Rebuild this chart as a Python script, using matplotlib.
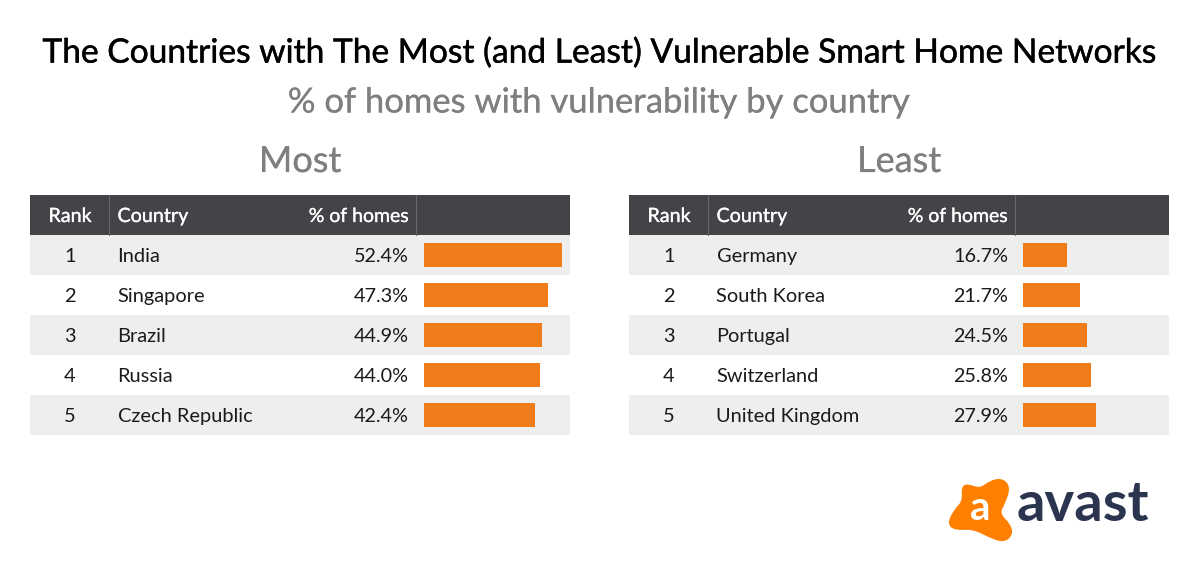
import matplotlib
matplotlib.use("Agg")
import matplotlib.pyplot as plt
import matplotlib.patheffects as pe
from matplotlib.patches import Rectangle, PathPatch
from matplotlib.path import Path

plt.rcParams['font.family'] = ['Lato', 'DejaVu Sans']

TITLE = "The Countries with The Most (and Least) Vulnerable Smart Home Networks"
SUBTITLE = "% of homes with vulnerability by country"
headers = ["Rank", "Country", "% of homes"]
ranks = [1, 2, 3, 4, 5]
most_countries = ["India", "Singapore", "Brazil", "Russia", "Czech Republic"]
most_values = [52.4, 47.3, 44.9, 44.0, 42.4]
least_countries = ["Germany", "South Korea", "Portugal", "Switzerland", "United Kingdom"]
least_values = [16.7, 21.7, 24.5, 25.8, 27.9]

W, H = 1200, 581
DARK, STRIPE, ORANGE = "#434448", "#eeeeee", "#f07c19"
fig = plt.figure(figsize=(W / 100, H / 100), dpi=100, facecolor="white")
bg = fig.add_axes([0, 0, 1, 1])
bg.set_xlim(0, W)
bg.set_ylim(H, 0)
bg.axis("off")

heavy = [pe.withStroke(linewidth=0.3, foreground="black")]
grey_heavy = [pe.withStroke(linewidth=0.15, foreground="#7f7f7f")]
white_heavy = [pe.withStroke(linewidth=0.2, foreground="white")]
bg.text(600, 52.5, TITLE, ha="center", va="center", fontsize=24.15, color="black", path_effects=heavy)
bg.text(600, 102.5, SUBTITLE, ha="center", va="center", fontsize=24.9, color="#7f7f7f", path_effects=grey_heavy)


def table(x0, label, countries, values):
    bg.text(x0 + 270, 161.5, label, ha="center", va="center", fontsize=26, color="#7f7f7f", path_effects=grey_heavy)
    bg.add_patch(Rectangle((x0, 195), 539.5, 40, fc=DARK, ec="none"))
    for sep in (79, 386):
        bg.plot([x0 + sep] * 2, [195, 235], color="#66676b", lw=0.8)
    hkw = dict(va="center", color="white", path_effects=white_heavy)
    bg.text(x0 + 40, 216.5, headers[0], ha="center", fontsize=14.2, **hkw)
    bg.text(x0 + 87.5, 216.5, headers[1], ha="left", fontsize=14.2, **hkw)
    bg.text(x0 + 379, 216.5, headers[2], ha="right", fontsize=14, **hkw)
    for i, (r, c, v) in enumerate(zip(ranks, countries, values)):
        y = 235 + 40 * i
        if i % 2 == 0:
            bg.add_patch(Rectangle((x0, y), 539.5, 40, fc=STRIPE, ec="none"))
        bg.text(x0 + 40, y + 21.5, str(r), ha="center", va="center", fontsize=14.4, color="#1a1a1a")
        bg.text(x0 + 87.5, y + 21.5, c, ha="left", va="center", fontsize=14.45, color="#1a1a1a")
        bg.text(x0 + 379, y + 21.5, f"{v:.1f}%", ha="right", va="center", fontsize=14.2, color="#1a1a1a")
    # bar panel: 2.625 px per percentage point, five 40 px rows
    left, top, width, height = x0 + 394, 235, 146, 200
    ax = fig.add_axes([left / W, 1 - (top + height) / H, width / W, height / H])
    ax.patch.set_alpha(0)
    ax.axis("off")
    ax.barh(range(5), values, height=0.6, color=ORANGE)
    ax.set_xlim(0, width / 2.625)
    ax.set_ylim(4.5, -0.5)


table(30, "Most", most_countries, most_values)
table(629, "Least", least_countries, least_values)

# logo
pts = [(97, 80), (115, 75), (150, 88), (180, 65), (215, 57), (238, 80), (225, 125), (205, 160),
       (240, 195), (245, 225), (220, 245), (175, 228), (130, 205), (75, 208), (55, 190),
       (75, 150), (100, 125)]
pts = [(930 + x / 3, 460 + y / 3) for x, y in pts]
n = len(pts)
mid = lambda a, b: ((a[0] + b[0]) / 2, (a[1] + b[1]) / 2)
verts = [mid(pts[-1], pts[0])]
codes = [Path.MOVETO]
for i in range(n):
    verts += [pts[i], mid(pts[i], pts[(i + 1) % n])]
    codes += [Path.CURVE3, Path.CURVE3]
bg.add_patch(PathPatch(Path(verts, codes), fc="#ff7f00", ec="#ff7f00", lw=1.5))
bg.text(980.5, 509, "a", ha="center", va="center", fontsize=29, color="white", fontweight="bold")
bg.text(1082.5, 505, "avast", ha="center", va="center", fontsize=40.5, color="#2c3550", fontweight="bold")

fig.savefig("out.png", dpi=100)
